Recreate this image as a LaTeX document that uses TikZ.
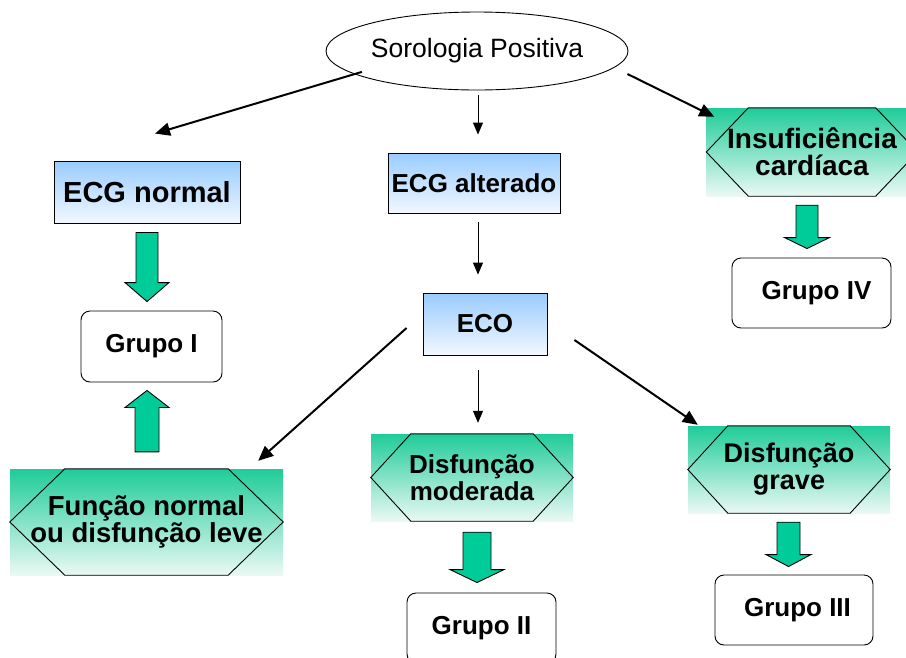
\documentclass[tikz,border=0pt]{standalone}
\usepackage{fontspec}
\setmainfont{Liberation Sans}
\usetikzlibrary{shapes.geometric,arrows.meta,calc}
\definecolor{clrBlue}{HTML}{99CCFF}
\definecolor{clrBlueLow}{HTML}{F2F8FF}
\definecolor{clrHex}{HTML}{1FCC99}
\definecolor{clrHexLow}{HTML}{EAF9F4}
\definecolor{clrFat}{HTML}{00CC99}
\tikzset{
  lbl/.style={font=\fontsize{26}{27}\selectfont\bfseries},
  oval/.style={ellipse, draw, line width=0.9pt, inner sep=0pt,
    minimum width=302pt, minimum height=78pt,
    font=\fontsize{26.5}{28}\selectfont},
  ecgbox/.style={rectangle, draw, line width=0.9pt, inner sep=0pt,
    top color=clrBlue, bottom color=clrBlueLow, lbl},
  hexbox/.style={rectangle, inner sep=0pt, align=center,
    top color=clrHex, bottom color=clrHexLow, lbl},
  hexline/.style={line width=0.9pt},
  grpbox/.style={rectangle, rounded corners=9pt, draw, line width=0.9pt,
    fill=white, inner sep=0pt, minimum height=70pt, lbl},
  link/.style={-{Triangle[length=15pt,width=13pt]}, line width=2pt},
  linkthin/.style={-{Triangle[length=12pt,width=10pt]}, line width=1pt},
  fatarr/.style={draw, line width=0.9pt, fill=clrFat},
}
% Blockpfeil: Start, Spitze, halbe Schaftbreite, halbe Kopfbreite, Kopflaenge
\newcommand\fatarrow[5]{%
  \coordinate (fs) at (#1);
  \coordinate (ft) at (#2);
  \coordinate (fb) at ($(ft)!#5!(fs)$);
  \draw[fatarr] ([xshift=-#3]fs) -- ([xshift=#3]fs) -- ([xshift=#3]fb)
    -- ([xshift=#4]fb) -- (ft) -- ([xshift=-#4]fb) -- ([xshift=-#3]fb) -- cycle;
}

\begin{document}
\begin{tikzpicture}[x=1pt, y=-1pt]
\useasboundingbox (0,0) rectangle (906,657);

\node[oval] (soro) at (477,51) {Sorologia Positiva};

\node[ecgbox, minimum width=186pt, minimum height=62pt,
  font=\fontsize{29}{30}\selectfont\bfseries] (ecgn) at (147,192) {ECG normal};
\node[ecgbox, minimum width=172pt, minimum height=60pt] (ecga) at (474,183) {ECG alterado};
\node[ecgbox, minimum width=124pt, minimum height=62pt] (eco) at (485,324) {ECO};

\node[hexbox, minimum width=211pt, minimum height=88pt,
  font=\fontsize{28}{27}\selectfont\bfseries] (ins) at (812,152)
  {Insuficiência\\cardíaca};
\node[hexbox, minimum width=202pt, minimum height=87pt] (mod) at (472,477.5)
  {Disfunção\\moderada};
\node[hexbox, minimum width=202pt, minimum height=87pt,
  font=\fontsize{27}{27}\selectfont\bfseries] (grv) at (789,469.5)
  {Disfunção\\grave};
\node[hexbox, minimum width=273pt, minimum height=106pt,
  font=\fontsize{27.5}{27}\selectfont\bfseries] (nrm) at (146.5,522)
  {Função normal\\ou disfunção leve};

% Sechseck-Umriss ueber dem Verlaufsrechteck
\foreach \hx/\d in {ins/42, mod/40, grv/40, nrm/55}{
  \draw[hexline] (\hx.west) -- ([xshift=\d]\hx.north west)
    -- ([xshift=-\d]\hx.north east) -- (\hx.east)
    -- ([xshift=-\d]\hx.south east) -- ([xshift=\d]\hx.south west) -- cycle;
}

\node[grpbox, minimum width=141pt, minimum height=71pt] (g1) at (151.5,346.5) {Grupo I};
\node[grpbox, minimum width=149pt] (g2) at (481.5,628) {Grupo II};
\node[grpbox, minimum width=158pt] (g3) at (794,610) {\hspace{7pt}Grupo III};
\node[grpbox, minimum width=159pt] (g4) at (811.5,293) {\hspace{10pt}Grupo IV};

\draw[link] ([shift={(-8,-7)}]soro.south west) -- ([shift={(8,-27)}]ecgn.north);
\draw[linkthin] ([shift={(1,5)}]soro.south) -- ([shift={(4,-18)}]ecga.north);
\draw[link] ([shift={(-1,23)}]soro.east) -- ([shift={(8,9)}]ins.north west);
\draw[linkthin] ([shift={(4,9)}]ecga.south) -- ([shift={(-7,-18)}]eco.north);
\draw[link] ([shift={(-16,4)}]eco.west) -- ([shift={(-25,-8)}]nrm.north east);
\draw[linkthin] ([shift={(-7,15)}]eco.south) -- ([shift={(6,-11)}]mod.north);
\draw[link] ([shift={(27,16)}]eco.east) -- ([shift={(10,-1)}]grv.north west);

\fatarrow{[shift={(0,9)}]ecgn.south}{[shift={(-4.5,-9)}]g1.north}{11pt}{22pt}{19pt}
\fatarrow{[shift={(0.5,-17)}]nrm.north}{[shift={(-4.5,8)}]g1.south}{12pt}{22pt}{17pt}
\fatarrow{[shift={(-5,9)}]ins.south}{[shift={(-4.5,-9)}]g4.north}{11pt}{22.5pt}{11pt}
\fatarrow{[shift={(5,11)}]mod.south}{[shift={(-4.5,-10)}]g2.north}{14pt}{27pt}{13pt}
\fatarrow{[shift={(-0.5,9)}]grv.south}{[shift={(-5.5,-8)}]g3.north}{11.5pt}{22.5pt}{12pt}

\end{tikzpicture}
\end{document}
